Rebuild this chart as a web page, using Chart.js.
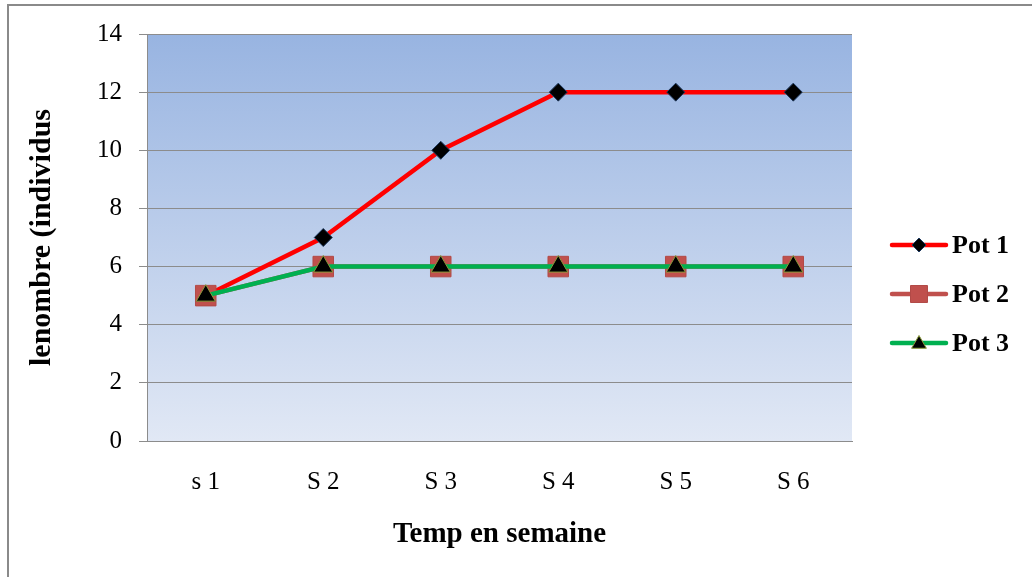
<!DOCTYPE html>
<html>
<head>
<meta charset="utf-8">
<script src="https://cdn.jsdelivr.net/npm/chart.js@4.4.1/dist/chart.umd.min.js"></script>
<style>
  html, body { margin: 0; padding: 0; background: #ffffff; }
  canvas { display: block; }
</style>
</head>
<body>
<canvas id="chart" width="1032" height="577"></canvas>
<script>
// Weekly counts per pot
const weeks = ['s 1', 'S 2', 'S 3', 'S 4', 'S 5', 'S 6'];
const pot1 = [5, 7, 10, 12, 12, 12];
const pot2 = [5, 6, 6, 6, 6, 6];
const pot3 = [5, 6, 6, 6, 6, 6];
const yMin = 0, yMax = 14, yStep = 2;

const SERIF = "'Liberation Serif', 'Times New Roman', serif";
const GRID = '#8c8c8c';

// Frame + gradient plot area
const backdrop = {
  id: 'backdrop',
  beforeDraw(chart) {
    const { ctx, chartArea: a } = chart;
    ctx.save();
    ctx.fillStyle = '#ffffff';
    ctx.fillRect(0, 0, chart.width, chart.height);
    const g = ctx.createLinearGradient(0, a.top, 0, a.bottom);
    g.addColorStop(0, '#98b4e1');
    g.addColorStop(1, '#e1e8f5');
    ctx.fillStyle = g;
    ctx.fillRect(a.left, a.top, a.right - a.left, a.bottom - a.top);
    ctx.strokeStyle = '#8a8a8a';
    ctx.lineWidth = 2;
    ctx.beginPath();
    ctx.moveTo(8, chart.height);
    ctx.lineTo(8, 5);
    ctx.lineTo(chart.width, 5);
    ctx.stroke();
    ctx.restore();
  }
};

// Legend: line sample with marker, then label
const sideLegend = {
  id: 'sideLegend',
  afterDraw(chart) {
    const { ctx } = chart;
    const x0 = 892, x1 = 946, xm = 919, xt = 952;
    const rows = [245, 294, 343];
    chart.data.datasets.forEach((ds, i) => {
      const y = rows[i];
      ctx.save();
      ctx.strokeStyle = ds.borderColor;
      ctx.lineWidth = ds.borderWidth;
      ctx.lineCap = 'round';
      ctx.beginPath();
      ctx.moveTo(x0, y);
      ctx.lineTo(x1, y);
      ctx.stroke();
      ctx.fillStyle = ds.pointBackgroundColor;
      ctx.strokeStyle = ds.pointBorderColor;
      ctx.lineWidth = ds.pointBorderWidth;
      ctx.lineCap = 'butt';
      Chart.helpers.drawPoint(ctx, {
        pointStyle: ds.pointStyle,
        radius: ds.legendRadius,
        rotation: 0,
        borderWidth: ds.pointBorderWidth
      }, xm, y + (ds.pointStyle === 'triangle' ? 1 : 0));
      ctx.fillStyle = '#000000';
      ctx.font = "bold 26px " + SERIF;
      ctx.textAlign = 'left';
      ctx.textBaseline = 'middle';
      ctx.fillText(ds.label, xt, y + 1);
      ctx.restore();
    });
  }
};

new Chart(document.getElementById('chart'), {
  type: 'line',
  data: {
    labels: weeks,
    datasets: [
      {
        label: 'Pot 1', data: pot1, order: 3,
        borderColor: '#ff0000', borderWidth: 4.5,
        pointStyle: 'rectRot', pointRadius: 9, legendRadius: 7,
        pointBackgroundColor: '#000000', pointBorderColor: '#1f3a60', pointBorderWidth: 1
      },
      {
        label: 'Pot 2', data: pot2, order: 2,
        borderColor: '#c0504d', borderWidth: 4.5,
        pointStyle: 'rect', pointRadius: 14.5, legendRadius: 12,
        pointBackgroundColor: '#c0504d', pointBorderColor: '#b24a47', pointBorderWidth: 1
      },
      {
        label: 'Pot 3', data: pot3, order: 1,
        borderColor: '#00b050', borderWidth: 4.5,
        pointStyle: 'triangle', pointRadius: 11, legendRadius: 8.5,
        pointBackgroundColor: '#000000', pointBorderColor: '#8a9a3a', pointBorderWidth: 1
      }
    ]
  },
  options: {
    responsive: false,
    animation: false,
    devicePixelRatio: 1,
    layout: { padding: { left: 10, right: 180, top: 34, bottom: 0 } },
    elements: { line: { tension: 0 }, point: { hoverRadius: 9 } },
    plugins: { legend: { display: false }, tooltip: { enabled: false } },
    scales: {
      x: {
        offset: true,
        grid: { display: false, drawTicks: false },
        border: { display: true, color: GRID, width: 1 },
        ticks: { color: '#000000', padding: 26, font: { family: SERIF, size: 25 } },
        title: {
          display: true, text: 'Temp en semaine', color: '#000000',
          font: { family: SERIF, size: 29, weight: 'bold' },
          padding: { top: 0, bottom: 25 }
        },
        afterFit(s) { s.height = 136; }
      },
      y: {
        min: yMin, max: yMax,
        ticks: { stepSize: yStep, color: '#000000', padding: 17, font: { family: SERIF, size: 25 } },
        grid: { color: GRID, lineWidth: 1, drawTicks: true, tickLength: 8 },
        border: { display: true, color: GRID, width: 1 },
        title: {
          display: true, text: 'lenombre (individus', color: '#000000',
          font: { family: SERIF, size: 30, weight: 'bold' },
          padding: { top: 14, bottom: 0 }
        },
        afterFit(s) { s.width = 137; }
      }
    }
  },
  plugins: [backdrop, sideLegend]
});
</script>
</body>
</html>
